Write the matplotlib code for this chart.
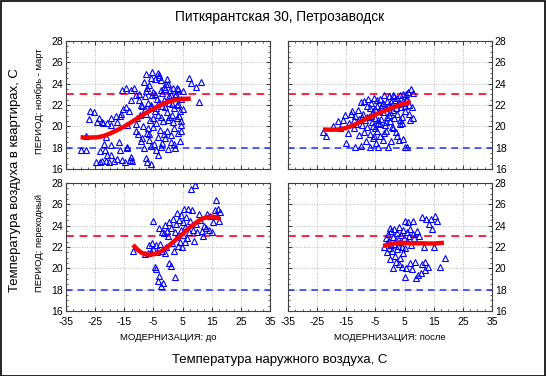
import numpy as np
import matplotlib
matplotlib.use('Agg')
import matplotlib.pyplot as plt
from matplotlib.patches import Rectangle

plt.rcParams['font.family'] = ['Liberation Sans', 'DejaVu Sans']
plt.rcParams['axes.unicode_minus'] = False

title = 'Питкярантская 30, Петрозаводск'
ylabel = 'Температура воздуха в квартирах, С'
xlabel = 'Температура наружного воздуха, С'
row_labels = ['ПЕРИОД: ноябрь - март', 'ПЕРИОД: переходный']
col_labels = ['МОДЕРНИЗАЦИЯ: до', 'МОДЕРНИЗАЦИЯ: после']

x_ticks = [-35, -25, -15, -5, 5, 15, 25, 35]
y_ticks = [16, 18, 20, 22, 24, 26, 28]
norm_hi = 23
norm_lo = 18

# отопительный период, до модернизации
tl_x = [-30, -28.3, -28, -27, -26.6, -25.3, -24.7, -24.3, -23.7, -23.2, -23.2, -22.8, -22.6, -22.4,
        -21.8, -21.5, -21.4, -21.2, -21.1, -21, -20.1, -19.7, -19.7, -19.4, -19.4, -18.6, -18, -17.6,
        -17.4, -16.9, -16.5, -16.3, -16.2, -15.7, -15.7, -15.3, -14.6, -14.5, -14.4, -14.2, -14, -14,
        -13.4, -13, -12.8, -12.8, -12.6, -12.5, -11.7, -11.1, -11, -10.5, -10.3, -9.9, -9.7, -9.4, -9.2,
        -8.8, -8.5, -8.2, -8.2, -8, -7.7, -7.5, -7.3, -7.1, -7.1, -6.8, -6.5, -6.3, -5.9, -5.9, -5.7,
        -5.5, -5.5, -5.2, -5, -4.9, -4.6, -4.4, -4.1, -3.9, -3.6, -3.3, -3.3, -3, -2.8, -2.5, -2.5,
        -2.3, -2.1, -1.8, -1.5, -1.3, -1, -0.8, -0.5, -0.2, 0, 0.3, 0.5, 0.8, 1, 1.3, 1.6, 1.8, 2.1,
        2.3, 2.7, 3, 3.3, 3.5, 3.9, 4.1, 4.4, 4.6, 5, 5.2, 7.3, 8, 9.6, 10.5, 11.3]
tl_y = [17.8, 17.8, 19.1, 20.7, 21.4, 21.3, 16.7, 20.4, 20.75, 17.7, 16.7, 16.75, 20.4, 20.3,
        18.3, 17.8, 16.75, 19.0, 20.3, 17.3, 16.7, 20.8, 18.25, 17.3, 20.1, 16.75, 21.0, 16.9,
        20.4, 18.5, 17.8, 21.0, 21.2, 23.4, 16.85, 21.6, 16.7, 23.6, 21.8, 20.1, 18.0, 18.1,
        21.4, 16.8, 23.4, 17.15, 22.5, 16.75, 23.6, 22.9, 20.2, 20.75, 19.3, 22.5, 21.1, 22.0, 18.6,
        18.9, 20.0, 17.95, 24.2, 21.6, 17.0, 24.9, 19.4, 23.6, 16.7, 22.2, 18.7, 20.6, 24.5, 16.5,
        21.8, 25.1, 22.9, 19.9, 23.2, 18.3, 21.4, 24.4, 20.3, 22.6, 25.0, 17.3, 21.1, 24.8, 19.7,
        23.4, 18.1, 24.3, 21.9, 20.5, 23.7, 22.5, 18.9, 24.0, 21.3, 19.6, 24.0, 22.8, 20.9, 23.4,
        19.2, 22.1, 23.6, 20.4, 21.7, 17.95, 23.0, 23.6, 19.35, 22.1, 21.0, 18.6, 22.6, 20.1,
        23.3, 21.6, 24.5, 24.1, 23.7, 22.3, 24.2]
tl_x2 = [-8, -7.5, -7, -6.5, -6, -5, -4.5, -4, -3.5, -3,
         -2.5, -2, -1.5, -1, -0.5, 0, 0.5, 1, 1.5, 2,
         2.5, 3, 3.5, 4, 4.5, -6, -4, -2, 0, 2,
         -9, -10, -11, -6.5, -1, 1, 3, 4.5, -3, -7.5]
tl_y2 = [22.8, 21.2, 19.8, 23.9, 22.0, 20.8, 23.0, 21.7, 19.0, 22.3,
         20.9, 23.1, 19.3, 21.8, 24.4, 20.6, 22.2, 18.5, 21.1, 19.8,
         22.9, 20.8, 23.5, 21.4, 19.6, 18.2, 17.8, 18.4, 17.9, 18.3,
         21.9, 23.0, 19.6, 19.3, 23.5, 22.9, 22.0, 20.5, 24.6, 23.3]
tl_fit_x = [-30, -27, -24.3, -22, -19.7, -17.4, -15.1, -12.8, -10.5, -8.2, -5.9, -3.6, -1.3, 1, 3.3, 5.6, 7.8]
tl_fit_y = [18.97, 18.95, 18.97, 19.1, 19.35, 19.65, 19.97, 20.35, 20.75, 21.15, 21.5, 21.85, 22.16, 22.38, 22.5, 22.58, 22.6]

# отопительный период, после модернизации
tr_x = [-23, -22, -19.5, -18, -17, -16, -15.5, -15, -14.5, -14, -13.5, -13, -12.5, -12, -12, -11.5,
        -11, -10.8, -10.5, -10, -10, -9.5, -9.3, -9, -8.8, -8.5, -8.2, -8, -7.8, -7.5, -7.3, -7,
        -7, -6.8, -6.5, -6.2, -6, -5.8, -5.5, -5.3, -5, -4.8, -4.5, -4.3, -4, -4, -3.8, -3.5, -3.3,
        -3, -2.8, -2.5, -2.3, -2, -1.8, -1.5, -1.3, -1, -0.8, -0.5, -0.3, 0, 0.3, 0.5, 0.8, 1, 1.2,
        1.5, 1.8, 2, 2.3, 2.5, 2.8, 3, 3.3, 3.5, 3.8, 4, 4.3, 4.5, 4.8, 5, 5.2, 5.5, 6, 6.3, 6.6,
        7, 7.3, 7.6, 7.8, 8]
tr_y = [19.5, 19.1, 20.0, 20.5, 19.8, 20.6, 21.1, 18.4, 19.4, 20.3, 21.2, 21.4, 19.8, 18.1, 21.0,
        20.2, 21.5, 19.2, 20.7, 18.2, 22.3, 20.1, 21.2, 19.5, 22.4, 20.6, 18.6, 21.9, 19.9, 22.6,
        20.9, 18.1, 21.7, 19.3, 22.2, 20.4, 18.9, 21.4, 22.7, 19.8, 20.8, 18.4, 21.9, 22.5, 18.1,
        20.3, 21.4, 19.1, 22.6, 20.7, 22.0, 18.7, 21.3, 22.9, 20.1, 21.7, 19.6, 22.4, 18.1, 21.1,
        22.8, 20.5, 21.9, 22.3, 19.9, 22.9, 21.5, 20.8, 22.5, 19.5, 22.7, 21.2, 22.1, 18.7, 20.6,
        22.9, 21.8, 20.3, 23.0, 18.8, 22.2, 18.1, 21.4, 22.6, 18.1, 23.2, 22.0, 20.6, 23.5, 21.8,
        20.8, 23.1]
tr_x2 = [-6, -5, -4, -3, -2, -1, 0, 1, 2, 3,
         4, 5, 6, -8, -6.5, -4.5, -2.5, -0.5, 1.5, 3.5,
         5.5, 6.5, -1.5, 0.5, 2.5, 4.5, -3.5, -5.5, -9.5, -12.5]
tr_y2 = [20.0, 21.6, 20.6, 21.8, 19.4, 20.9, 21.3, 19.8, 21.7, 22.3,
         20.9, 21.9, 22.6, 20.9, 21.0, 19.6, 22.2, 22.0, 22.8, 20.2,
         23.0, 21.2, 20.4, 18.6, 19.1, 22.4, 20.2, 19.1, 20.9, 20.6]
tr_fit_x = [-23, -20.5, -17.6, -15, -12.5, -10.2, -7.9, -5.6, -3.3, -1, 1.3, 3.5, 5.5, 7.1]
tr_fit_y = [19.7, 19.68, 19.7, 19.85, 20.1, 20.42, 20.75, 21.03, 21.3, 21.55, 21.8, 22.02, 22.18, 22.3]

# переходный период, до модернизации
bl_x = [-12, -8, -7, -6.5, -6, -5.5, -5, -5, -4.5, -4.2, -4, -3.8, -3.5, -3.2, -3, -2.8, -2.5,
        -2.2, -2, -1.8, -1.5, -1.2, -1, -0.8, -0.5, 0, 0.2, 0.5, 1, 1.2, 1.5, 1.8, 2, 2.3, 2.5, 2.8,
        3, 3.2, 3.5, 3.8, 4, 4.3, 4.5, 4.8, 5, 5.3, 5.5, 5.8, 6, 6.3, 6.5, 7, 7.3, 7.5, 8, 8.3, 8.5,
        9, 9.3, 9.5, 10, 10.5, 11, 11.5, 12, 12.5, 13, 13.5, 14, 14.5, 15, 15.5, 16, 16.3, 16.8, 17,
        17.5, 18]
bl_y = [21.6, 21.3, 21.4, 22.2, 21.5, 22.4, 24.4, 21.8, 20.1, 22.2, 19.9, 21.5, 18.8, 23.8, 19.3,
        22.3, 18.3, 23.4, 21.6, 18.6, 23.3, 21.4, 24.1, 22.0, 23.5, 23.0, 24.3, 20.5, 23.8, 20.2,
        22.4, 24.6, 21.6, 23.4, 19.2, 24.2, 22.9, 25.2, 22.1, 24.5, 22.5, 25.0, 23.6, 22.0, 24.3,
        23.1, 25.6, 22.5, 23.9, 24.8, 22.8, 25.6, 23.4, 24.4, 27.4, 25.5, 23.6, 22.6, 27.8, 24.2,
        23.4, 25.1, 24.5, 23.5, 23.0, 24.0, 23.8, 25.1, 23.6, 24.9, 23.4, 24.3, 25.5, 26.4, 24.9,
        25.6, 24.4, 25.3]
bl_fit_x = [-12, -10.5, -9, -7.5, -6, -4.5, -3, -1.5, 0, 1.5, 3, 4.5, 6, 7.5, 9, 10.5, 12, 13.5, 15, 16.5, 18]
bl_fit_y = [22.2, 21.75, 21.45, 21.3, 21.28, 21.35, 21.5, 21.75, 22.05, 22.4, 22.75, 23.1, 23.5, 23.85,
            24.15, 24.45, 24.68, 24.8, 24.85, 24.8, 24.6]

# переходный период, после модернизации
br_x = [-2, -1.5, -1.2, -1, -0.8, -0.5, -0.2, 0, 0, 0.3, 0.5, 0.8, 1, 1, 1.3, 1.5, 1.8, 2, 2,
        2.3, 2.5, 2.8, 3, 3, 3.3, 3.5, 3.8, 4, 4, 4.3, 4.5, 4.8, 5, 5, 5.3, 5.5, 5.8, 6, 6.3, 6.5,
        6.8, 7, 7.3, 7.5, 7.8, 8, 8.3, 8.5, 9, 9.3, 9.5, 10, 10.5, 11, 11, 11.5, 12, 12, 12.5, 13,
        13.5, 14, 14.5, 15, 15.5, 16, 17, 19]
br_y = [22.0, 22.8, 21.5, 22.4, 23.2, 21.9, 22.6, 23.8, 20.9, 22.2, 23.5, 21.6, 22.9, 20.0, 22.3,
        23.7, 21.2, 22.7, 20.6, 21.8, 23.3, 22.1, 20.4, 23.9, 22.5, 21.0, 23.1, 22.0, 20.1, 23.6,
        21.4, 22.8, 19.2, 24.4, 21.9, 20.0, 23.4, 22.6, 24.3, 23.0, 20.5, 23.7, 22.2, 19.9, 23.2,
        24.4, 22.8, 20.6, 19.1, 23.5, 19.4, 23.0, 19.6, 24.8, 20.4, 22.0, 20.6, 19.8, 24.6, 20.1,
        24.2, 24.6, 23.7, 22.0, 24.9, 24.4, 20.1, 21.0]
br_fit_x = [-2.4, 0, 2, 3.6, 5.5, 7.5, 10.5, 13, 15.5, 18.5]
br_fit_y = [22.1, 22.25, 22.35, 22.4, 22.38, 22.35, 22.35, 22.33, 22.33, 22.4]

panels = [
    (tl_x + tl_x2, tl_y + tl_y2, tl_fit_x, tl_fit_y),
    (tr_x + tr_x2, tr_y + tr_y2, tr_fit_x, tr_fit_y),
    (bl_x, bl_y, bl_fit_x, bl_fit_y),
    (br_x, br_y, br_fit_x, br_fit_y),
]

W, H = 546, 376
fig = plt.figure(figsize=(W / 100, H / 100), dpi=100)
fig.patches.append(Rectangle((0.5 / W, 0.5 / H), 1 - 1.5 / W, 1 - 1.5 / H, transform=fig.transFigure,
                             fill=False, edgecolor='black', linewidth=1.2))

lefts = [66, 288]
tops = [41, 183]
pw, ph = 204, 128

for i, (px, py, fx, fy) in enumerate(panels):
    r, c = divmod(i, 2)
    ax = fig.add_axes([lefts[c] / W, 1 - (tops[r] + ph) / H, pw / W, ph / H])
    ax.set_xlim(-35, 35)
    ax.set_ylim(16, 28)
    ax.set_xticks(x_ticks)
    ax.set_yticks(y_ticks)
    ax.set_xticks(np.arange(-35, 36, 2.5), minor=True)
    ax.set_yticks(np.arange(16, 28.1, 0.5), minor=True)
    ax.grid(True, which='major', color='#b8b8b8', linestyle=':', linewidth=0.7)
    ax.tick_params(which='both', direction='in', top=True, right=True, labelsize=7.5,
                   color='#404040', pad=2)
    ax.tick_params(axis='x', pad=4)
    ax.tick_params(which='major', length=3)
    ax.tick_params(which='minor', length=1.5)
    if c == 1:
        ax.tick_params(labelleft=False, labelright=True)
    if r == 0:
        ax.tick_params(labelbottom=False)
    for s in ax.spines.values():
        s.set_color('#404040')
        s.set_linewidth(0.8)
    ax.axhline(norm_hi, color='#ff2040', linestyle=(0, (4, 3)), linewidth=1.4, zorder=2)
    ax.axhline(norm_lo, color='#3040ff', linestyle=(0, (4, 3)), linewidth=1.2, zorder=2)
    ax.plot(px, py, linestyle='none', marker='^', markersize=4.5, markerfacecolor='none',
            markeredgecolor='#0000ff', markeredgewidth=0.8, zorder=3)
    ax.plot(fx, fy, color='#ff0000', linewidth=3.2, solid_capstyle='butt', zorder=4)

fig.text(280 / W, 1 - 17 / H, title, ha='center', va='center', fontsize=9.8)
fig.text(15 / W, 1 - 180 / H, ylabel, rotation=90, ha='center', va='center', fontsize=9.5)
fig.text(280 / W, 1 - 360 / H, xlabel, ha='center', va='center', fontsize=9.5)
for r, lab in enumerate(row_labels):
    fig.text(39 / W, 1 - (tops[r] + ph / 2 - 4) / H, lab, rotation=90, ha='center', va='center', fontsize=6.8)
for c, lab in enumerate(col_labels):
    fig.text((lefts[c] + pw / 2) / W, 1 - 337 / H, lab, ha='center', va='center', fontsize=6.8)

fig.savefig('out.png', dpi=100)
